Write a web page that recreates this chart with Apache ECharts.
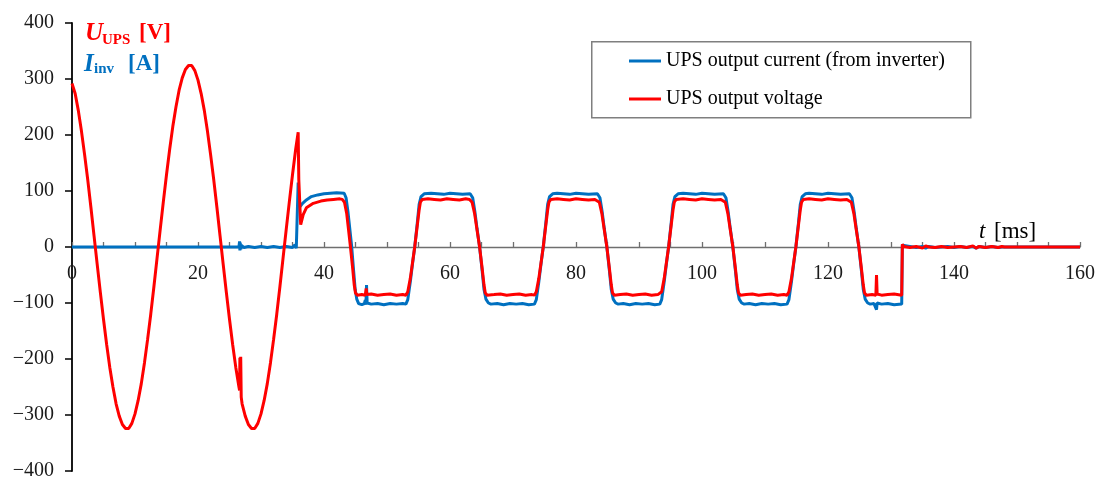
<!DOCTYPE html>
<html>
<head>
<meta charset="utf-8">
<script src="https://cdn.jsdelivr.net/npm/echarts@6/dist/echarts.min.js"></script>
<style>
html,body{margin:0;padding:0;background:#fff;}
#chart{width:1097px;height:477px;}
</style>
</head>
<body>
<div id="chart"></div>
<script>
// ---- Data ----
const xTicks = [0, 20, 40, 60, 80, 100, 120, 140, 160];
const yTicks = [-400, -300, -200, -100, 0, 100, 200, 300, 400];
const seriesNames = ['UPS output current (from inverter)', 'UPS output voltage'];

// UPS output current from inverter [A], pairs [t ms, value]
const currentData = [
  [0,0],[26.5,0],[26.6,10],[26.65,-6],[26.7,8],[26.8,-4],[26.9,3],[27.3,-1],[28,1],[29,-1],[30,1],[31,-1],[32,1],[33,-1],[34,1],[35,-1],[35.4,4],[35.6,-2],[35.85,1],
  [35.9,115],[36.0,90],[36.2,72],[36.6,78],[37.2,84],[38,90],[39,93],[40,95],[41,96],[42,97],[43.2,96],
  [43.5,88],[43.8,63],[44.1,32],[44.4,0],[44.7,-42],[44.95,-76],[45.2,-93],[45.5,-101],[46.0,-103],[46.4,-101],[46.55,-95],[46.65,-103],[46.75,-68],[46.85,-100],[47.5,-102],[48.5,-101],[49.5,-103],[50.5,-101],[51.5,-102],[52.5,-101],[53.0,-102],
  [53.3,-94],[53.7,-62],[54.05,-30],[54.4,0],[54.8,42],[55.1,76],[55.4,90],[55.9,95],[57,96],[58,95],[59,94],[60,96],[61,95],[62,94],[63.2,95],
  [63.6,88],[63.95,63],[64.3,32],[64.7,0],[65.1,-42],[65.4,-76],[65.7,-93],[66.1,-100],[66.5,-102],[67.5,-101],[68.5,-103],[69.5,-101],[70.5,-102],[71.5,-101],[72.5,-103],[73.4,-102],
  [73.7,-94],[74.1,-62],[74.45,-30],[74.8,0],[75.2,42],[75.5,76],[75.8,90],[76.3,95],[77,96],[78,95],[79,94],[80,96],[81,95],[82,94],[83.4,95],
  [83.8,88],[84.15,63],[84.5,32],[84.9,0],[85.3,-42],[85.6,-76],[85.9,-93],[86.3,-100],[86.7,-102],[87.5,-101],[88.5,-103],[89.5,-101],[90.5,-102],[91.5,-101],[92.5,-103],[93.3,-102],
  [93.6,-94],[94.0,-62],[94.35,-30],[94.7,0],[95.1,42],[95.4,76],[95.7,90],[96.2,95],[97,96],[98,95],[99,94],[100,96],[101,95],[102,94],[103.4,95],
  [103.8,88],[104.15,63],[104.5,32],[104.9,0],[105.3,-42],[105.6,-76],[105.9,-93],[106.3,-100],[106.7,-102],[107.5,-101],[108.5,-103],[109.5,-101],[110.5,-102],[111.5,-101],[112.5,-103],[113.5,-102],
  [113.8,-94],[114.2,-62],[114.55,-30],[114.9,0],[115.3,42],[115.6,76],[115.9,90],[116.4,95],[117,96],[118,95],[119,94],[120,96],[121,95],[122,94],[123.4,95],
  [123.8,88],[124.15,63],[124.5,32],[124.9,0],[125.3,-42],[125.6,-76],[125.9,-93],[126.3,-100],[126.7,-102],[127.3,-101],[127.6,-103],[127.7,-112],[127.8,-100],[128.5,-102],[129.5,-101],[130.5,-103],[131.7,-102],
  [131.8,3],[132,0],[133,1],[134,-1],[135,1],[135.5,-2],[136,1],[137,-1],[138,0],[139,1],[140,-1],[141,1],[142,-1],[143,1],[143.5,-2],[144,1],[145,-1],[146,1],[147,-1],[147.6,0],[160,0]
];

// UPS output voltage [V], pairs [t ms, value]
const voltageData = [
  [0,292],[0.5,274],[1,244],[1.5,207],[2,165],[2.5,120],[3,71],[3.5,20],[4,-31],[4.5,-81],[5,-129],[5.5,-174],[6,-215],[6.5,-250],[7,-280],[7.5,-302],[8,-317],[8.5,-324],[8.7,-326],[9,-324],[9.5,-315],[10,-298],[10.5,-274],[11,-244],[11.5,-207],[12,-165],[12.5,-120],[13,-71],[13.5,-20],[14,31],[14.5,81],[15,129],[15.5,174],[16,215],[16.5,250],[17,280],[17.5,302],[18,317],[18.5,324],[18.7,326],[19,324],[19.5,315],[20,298],[20.5,274],[21,244],[21.5,207],[22,165],[22.5,120],[23,71],[23.5,20],[24,-31],[24.5,-81],[25,-129],[25.5,-174],[26,-215],[26.5,-250],[26.6,-256],[26.65,-198],[26.72,-242],[26.78,-196],[26.86,-268],[27,-280],[27.5,-302],[28,-317],[28.5,-324],[28.7,-326],[29,-324],[29.5,-315],[30,-298],[30.5,-274],[31,-244],[31.5,-207],[32,-165],[32.5,-120],[33,-71],[33.5,-20],[34,31],[34.5,81],[35,129],[35.5,174],[35.9,205],
  [36.0,120],[36.3,40],[36.7,58],[37.2,70],[38.3,78],[39.5,82],[40.5,84],[41.5,85],[42.5,86],[42.9,85],
  [43.25,80],[43.6,60],[43.9,30],[44.2,0],[44.55,-38],[44.8,-68],[45.0,-82],[45.3,-86],[46.0,-85],[46.55,-86],[46.7,-74],[46.8,-85],[47.5,-84],[48.5,-86],[49.5,-85],[50.5,-84],[51.5,-86],[52.5,-85],[53.0,-86],
  [53.3,-80],[53.7,-56],[54.05,-28],[54.4,0],[54.8,38],[55.1,66],[55.3,80],[55.6,85],[56.5,86],[57.5,85],[58.5,84],[59.5,86],[60.5,85],[61.5,84],[62.5,86],[63.1,85],
  [63.5,80],[63.9,60],[64.3,30],[64.7,0],[65.1,-38],[65.4,-68],[65.6,-82],[65.9,-86],[67,-85],[68,-84],[69,-86],[70,-85],[71,-84],[72,-86],[73,-85],[73.4,-86],
  [73.7,-80],[74.1,-56],[74.45,-28],[74.8,0],[75.2,38],[75.5,66],[75.7,80],[76.0,85],[77,86],[78,85],[79,84],[80,86],[81,85],[82,84],[83,85],[83.3,85],
  [83.7,80],[84.1,60],[84.5,30],[84.9,0],[85.3,-38],[85.6,-68],[85.8,-82],[86.1,-86],[87,-85],[88,-84],[89,-86],[90,-85],[91,-84],[92,-86],[93,-85],[93.3,-86],
  [93.6,-80],[94.0,-56],[94.35,-28],[94.7,0],[95.1,38],[95.4,66],[95.6,80],[95.9,85],[97,86],[98,85],[99,84],[100,86],[101,85],[102,84],[103,85],[103.3,85],
  [103.7,80],[104.1,60],[104.5,30],[104.9,0],[105.3,-38],[105.6,-68],[105.8,-82],[106.1,-86],[107,-85],[108,-84],[109,-86],[110,-85],[111,-84],[112,-86],[113,-85],[113.5,-86],
  [113.8,-80],[114.2,-56],[114.55,-28],[114.9,0],[115.3,38],[115.6,66],[115.8,80],[116.1,85],[117,86],[118,85],[119,84],[120,86],[121,85],[122,84],[123,85],[123.3,85],
  [123.7,80],[124.1,60],[124.5,30],[124.9,0],[125.3,-38],[125.6,-68],[125.8,-82],[126.1,-86],[127,-85],[127.6,-86],[127.7,-50],[127.8,-84],[128.5,-86],[129.5,-85],[130.5,-84],[131.7,-86],
  [131.8,5],[132,1],[133,-1],[134,1],[135,-2],[135.5,2],[136,0],[137,-1],[138,1],[139,-1],[140,0],[141,1],[142,-1],[143,2],[143.5,-2],[144,1],[145,-1],[146,1],[147,-1],[147.6,1],[148,0],[160,0]
];

const RED = '#FF0000';
const BLUE = '#0070C0';
const FONT = '"Liberation Serif", "DejaVu Serif", serif';

const chart = echarts.init(document.getElementById('chart'), null, {renderer: 'canvas'});

chart.setOption({
  animation: false,
  backgroundColor: '#ffffff',
  grid: {left: 72, right: 17, top: 23, bottom: 6, containLabel: false, outerBoundsMode: 'none'},
  xAxis: {
    type: 'value',
    min: xTicks[0],
    max: xTicks[xTicks.length - 1],
    interval: 5,
    axisLine: {onZero: true, lineStyle: {color: '#6f6f6f', width: 1.3}},
    axisTick: {show: true, inside: true, length: 5, lineStyle: {color: '#6f6f6f', width: 1.3}},
    axisLabel: {
      margin: -207, fontFamily: FONT, fontSize: 20, color: '#1a1a1a',
      formatter: v => xTicks.indexOf(v) >= 0 ? String(v) : ''
    },
    splitLine: {show: false}
  },
  yAxis: {
    type: 'value',
    min: yTicks[0],
    max: yTicks[yTicks.length - 1],
    interval: 100,
    axisLine: {onZero: false, lineStyle: {color: '#000', width: 1.8}},
    axisTick: {show: true, inside: false, length: 7, lineStyle: {color: '#000', width: 1.5}},
    axisLabel: {
      margin: 18, fontFamily: FONT, fontSize: 20, color: '#1a1a1a',
      formatter: v => (v < 0 ? '\u2212' + Math.abs(v) : String(v))
    },
    splitLine: {show: false}
  },
  legend: {
    left: 624,
    top: 45,
    orient: 'vertical',
    icon: 'rect',
    itemWidth: 32,
    itemHeight: 3,
    itemGap: 16,
    textStyle: {fontFamily: FONT, fontSize: 20, color: '#000', lineHeight: 22},
    data: seriesNames
  },
  graphic: [
    {type: 'rect', left: 591, top: 41, shape: {width: 379, height: 76},
     style: {fill: '#fff', stroke: '#7f7f7f', lineWidth: 1.5}, z: -1},
    {type: 'text', left: 85, top: 21, style: {text: 'U', fill: RED, fontFamily: FONT, fontSize: 25, fontWeight: 'bold', fontStyle: 'italic'}},
    {type: 'text', left: 102, top: 33, style: {text: 'UPS', fill: RED, fontFamily: FONT, fontSize: 15, fontWeight: 'bold'}},
    {type: 'text', left: 139, top: 22, style: {text: '[V]', fill: RED, fontFamily: FONT, fontSize: 23, fontWeight: 'bold'}},
    {type: 'text', left: 84, top: 52, style: {text: 'I', fill: BLUE, fontFamily: FONT, fontSize: 25, fontWeight: 'bold', fontStyle: 'italic'}},
    {type: 'text', left: 94, top: 62, style: {text: 'inv', fill: BLUE, fontFamily: FONT, fontSize: 15, fontWeight: 'bold'}},
    {type: 'text', left: 128, top: 53, style: {text: '[A]', fill: BLUE, fontFamily: FONT, fontSize: 23, fontWeight: 'bold'}},
    {type: 'text', left: 979, top: 220, style: {text: 't', fill: '#000', fontFamily: FONT, fontSize: 23, fontStyle: 'italic'}},
    {type: 'text', left: 994, top: 220, style: {text: '[ms]', fill: '#000', fontFamily: FONT, fontSize: 23}}
  ],
  series: [
    {
      name: seriesNames[0], type: 'line', data: currentData,
      showSymbol: false, symbol: 'none', smooth: false,
      lineStyle: {color: BLUE, width: 3}, itemStyle: {color: BLUE}, z: 2
    },
    {
      name: seriesNames[1], type: 'line', data: voltageData,
      showSymbol: false, symbol: 'none', smooth: false,
      lineStyle: {color: RED, width: 3}, itemStyle: {color: RED}, z: 3
    }
  ]
});
</script>
</body>
</html>
